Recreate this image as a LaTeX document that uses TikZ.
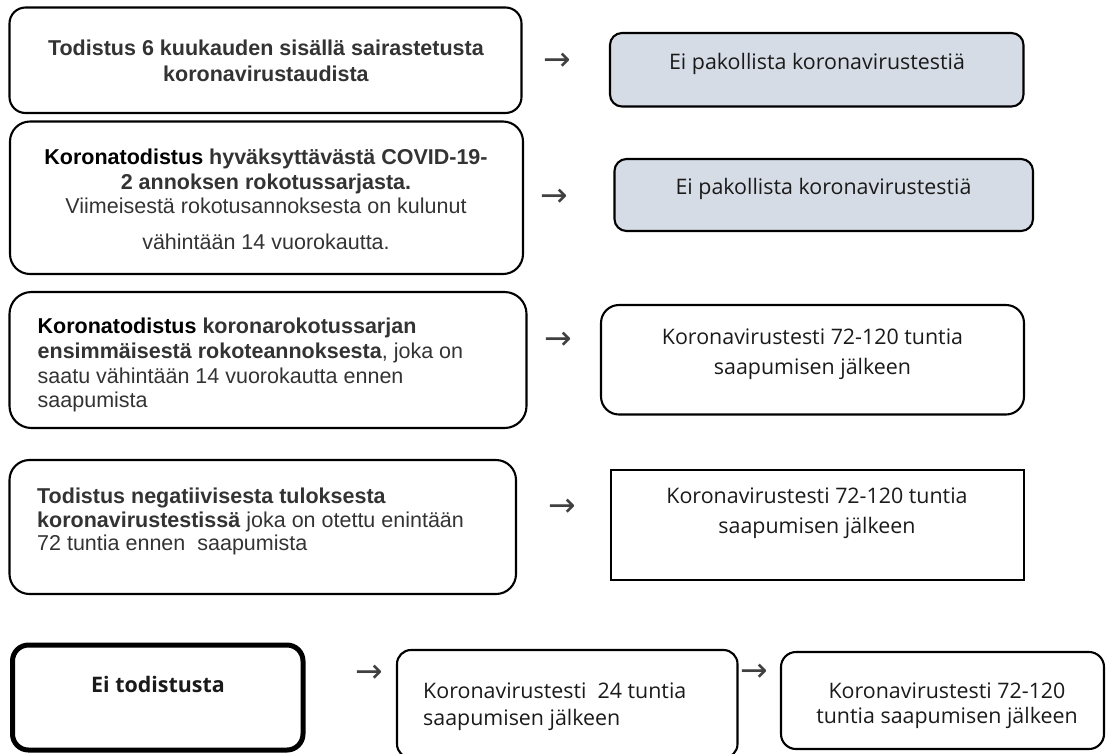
\documentclass[tikz,border=0pt]{standalone}
\usepackage{fontspec}
\setmainfont{Liberation Sans}
\newfontfamily\opensans{Open Sans}
\newfontfamily\arrowfont{DejaVu Sans}
\definecolor{txtgray}{HTML}{333333}
\definecolor{boxfill}{HTML}{D6DCE5}
\definecolor{arrowgray}{HTML}{404040}
\definecolor{osblack}{HTML}{1A1A1A}
\begin{document}
\begin{tikzpicture}[x=1pt,y=-1pt,
  bx/.style={draw=black, line width=2.1pt, inner sep=0pt, outer sep=0pt, anchor=north west, rounded corners=#1},
  bx/.default=15pt,
  grey/.style={fill=boxfill},
  ltxt/.style={inner sep=0pt, text=txtgray, font=\fontsize{21.5pt}{#1}\selectfont},
  ltxt/.default=26pt,
  rtxt/.style={inner sep=0pt, text=osblack, font=\opensans\fontsize{21.4pt}{#1}\selectfont},
  rtxt/.default=30pt,
  arr/.style={inner sep=0pt, text=arrowgray, font=\arrowfont\fontsize{33pt}{33pt}\selectfont}
]
\useasboundingbox (0,0) rectangle (1107,753);
\clip (0,0) rectangle (1107,753);

% left boxes
\node[bx=16pt, minimum width=512pt, minimum height=105.5pt] (b1) at (9.5,7.5) {};
\node[bx=20pt, minimum width=513pt, minimum height=152.5pt] (b2) at (10,121.5) {};
\node[bx=22pt, minimum width=517pt, minimum height=136pt] (b3) at (9.5,292) {};
\node[bx=20pt, minimum width=506.5pt, minimum height=134pt] (b4) at (9.5,460) {};
\node[bx=16pt, line width=5pt, minimum width=290.5pt, minimum height=105pt] (b5) at (12.5,645) {};
\node[bx=14pt, minimum width=340.5pt, minimum height=108pt] (b6) at (397,650) {};
\node[bx=15pt, minimum width=323pt, minimum height=97pt] (b7) at (781,652) {};

% right boxes
\node[bx=12pt, grey, minimum width=413.5pt, minimum height=73.5pt] (r1) at (610,33) {};
\node[bx=12pt, grey, minimum width=418.5pt, minimum height=72pt] (r2) at (614.5,159) {};
\node[bx=18pt, minimum width=423pt, minimum height=109.5pt] (r3) at (601,305) {};
\node[bx=0pt, minimum width=413pt, minimum height=110pt] (r4) at (611,470) {};

% left texts
\node[ltxt, anchor=north, align=center] (t1) at (266,40)
  {\textbf{Todistus 6 kuukauden sisällä sairastetusta}\\\textbf{koronavirustaudista}};
\node[ltxt=24.5pt, anchor=north, align=center] (t2) at (266,149)
  {\textbf{\color{black}Koronatodistus} \textbf{hyväksyttävästä COVID-19-}\\
   \textbf{2 annoksen rokotussarjasta.}\\
   Viimeisestä rokotusannoksesta on kulunut\\[11pt]
   vähintään 14 vuorokautta.};
\node[ltxt=24.7pt, anchor=north west, align=left] (t3) at (37.5,318)
  {\textbf{\color{black}Koronatodistus} \textbf{koronarokotussarjan}\\
   \textbf{ensimmäisestä rokoteannoksesta}, joka on\\
   saatu vähintään 14 vuorokautta ennen\\
   saapumista};
\node[ltxt=23.5pt, anchor=north west, align=left] (t4) at (37,488)
  {\textbf{Todistus negatiivisesta tuloksesta}\\
   \textbf{koronavirustestissä} joka on otettu enintään\\
   72 tuntia ennen~ saapumista};

% right texts
\node[rtxt, anchor=base] (o1) at (817,69.5) {Ei pakollista koronavirustestiä};
\node[rtxt, anchor=base] (o2) at (823.5,194.5) {Ei pakollista koronavirustestiä};
\node[rtxt, anchor=north, align=center] (o3) at (812.5,328.5)
  {Koronavirustesti 72-120 tuntia\\saapumisen jälkeen};
\node[rtxt, anchor=north, align=center] (o4) at (817,487.5)
  {Koronavirustesti 72-120 tuntia\\saapumisen jälkeen};
\node[rtxt, anchor=base, font=\opensans\bfseries\fontsize{21.4pt}{26pt}\selectfont] (o5) at (158,692) {Ei todistusta};
\node[rtxt=26.5pt, anchor=north west, align=left] (o6) at (423,683)
  {Koronavirustesti~ 24 tuntia\\saapumisen jälkeen};
\node[rtxt=25pt, anchor=north, align=center] (o7) at (947,683)
  {Koronavirustesti 72-120\\tuntia saapumisen jälkeen};

% arrow glyphs
\node[arr] (a1) at (557.5,62) {→};
\node[arr] (a2) at (554.5,198) {→};
\node[arr] (a3) at (558,341) {→};
\node[arr] (a4) at (562,508) {→};
\node[arr] (a5) at (369.5,674) {→};
\node[arr] (a6) at (754,673) {→};
\end{tikzpicture}
\end{document}
